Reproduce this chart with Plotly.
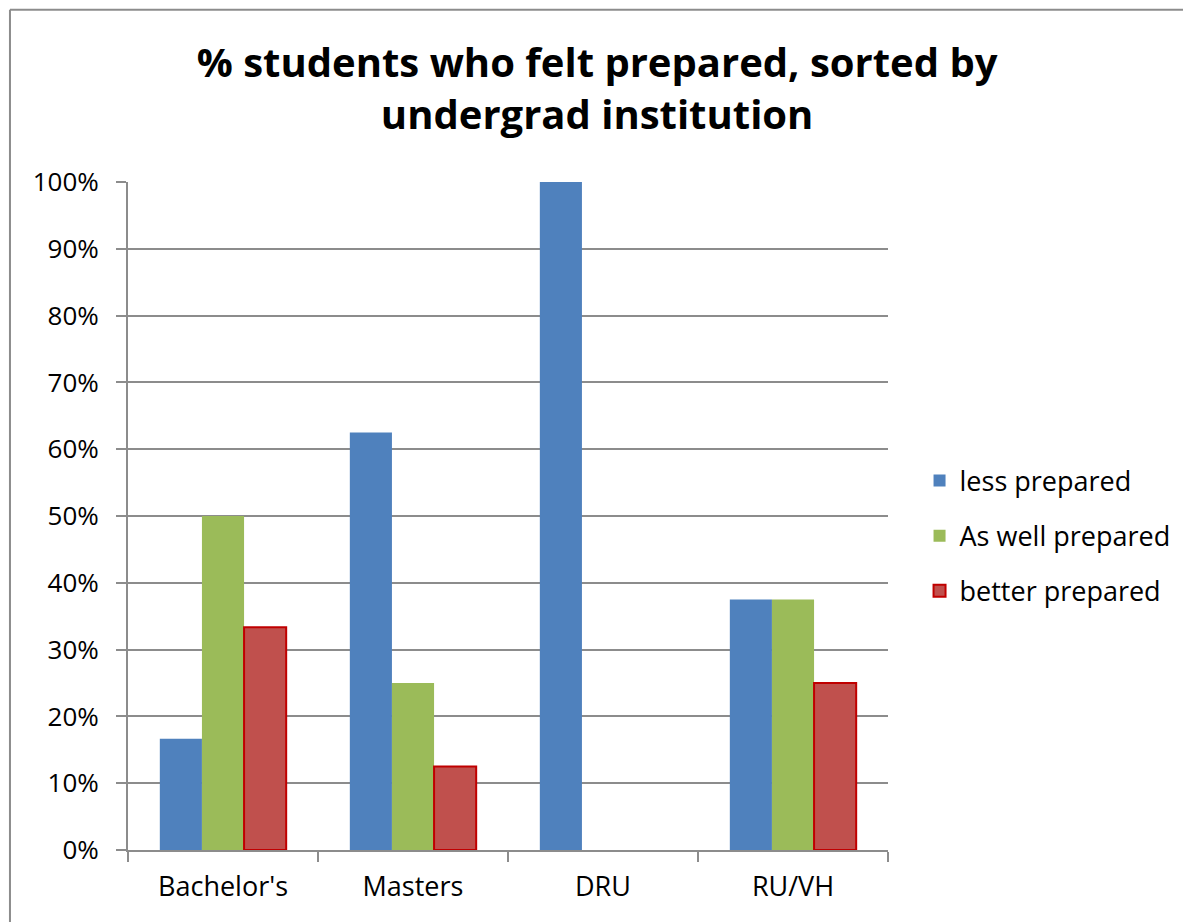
import plotly.graph_objects as go

categories = ["Bachelor's", "Masters", "DRU", "RU/VH"]
less_prepared = [0.1667, 0.625, 1.0, 0.375]
as_well_prepared = [0.50, 0.25, 0.0, 0.375]
better_prepared = [0.3333, 0.125, 0.0, 0.25]

FONT = "Open Sans"

fig = go.Figure()
fig.add_trace(go.Bar(x=categories, y=less_prepared, name="less prepared",
    legendgroup="a", marker=dict(color="#4F81BD", line=dict(width=0))))
fig.add_trace(go.Bar(x=categories, y=as_well_prepared, name="As well prepared",
    legendgroup="b", marker=dict(color="#9BBB59", line=dict(width=0))))
fig.add_trace(go.Bar(x=categories, y=better_prepared, name="better prepared",
    legendgroup="c", marker=dict(color="#C0504D",
        line=dict(color="#C00000", width=[2 if v > 0 else 0 for v in better_prepared]))))

# outer chart border: only the left and top edges are visible in the page
border = dict(color="#8c8c8c", width=2)
fig.add_shape(type="line", xref="paper", yref="paper",
    x0=-0.1553, x1=-0.1553, y0=-0.2, y1=1.258, line=border, layer="below")
fig.add_shape(type="line", xref="paper", yref="paper",
    x0=-0.1553, x1=1.6, y0=1.258, y1=1.258, line=border, layer="below")

fig.update_layout(
    width=1183, height=914,
    title=dict(text="<b>% students who felt prepared, sorted by<br>undergrad institution</b>",
        x=0.498, xanchor="center", y=0.9245, yanchor="middle",
        font=dict(family=FONT, size=40, color="black")),
    font=dict(family=FONT, color="black"),
    barmode="group", bargap=0.335, bargroupgap=0,
    plot_bgcolor="white", paper_bgcolor="white",
    margin=dict(l=120, r=303, t=174, b=72),
    legend=dict(x=1.0415, xanchor="left", y=0.47, yanchor="middle",
        font=dict(family=FONT, size=27), tracegroupgap=17, traceorder="grouped"),
)
fig.update_yaxes(range=[0, 1], tickformat=".0%", dtick=0.1,
    showgrid=True, gridcolor="#8c8c8c", gridwidth=2,
    showline=True, linecolor="#8c8c8c", linewidth=2,
    ticks="outside", ticklen=10, tickcolor="#8c8c8c", tickwidth=2,
    ticklabelstandoff=12,
    tickfont=dict(family=FONT, size=26), zeroline=False)
fig.update_xaxes(showline=True, linecolor="#8c8c8c", linewidth=2,
    ticks="outside", tickson="boundaries", ticklen=10, tickcolor="#8c8c8c", tickwidth=2,
    ticklabelstandoff=12,
    tickfont=dict(family=FONT, size=27))

fig.write_html("out.html")
